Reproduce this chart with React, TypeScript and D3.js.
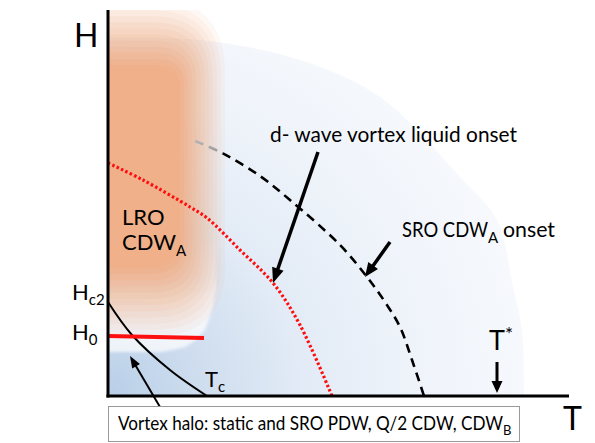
import React from 'react';
import * as d3 from 'd3';

const W = 595;
const HT = 443;

// Data in diagram units: T measured from the origin, H measured up from the T axis
const T_MAX = 461;
const H_MAX = 386;

const redDotted: [number, number][] = [[0,233],[35,216],[82,189],[99,178],[132,146],[165,113],[192,71],[224,0]];
const dashedOnset: [number, number][] = [[87,255],[114,243],[152,220],[182,196],[232,151],[259,119],[277,94],[292,69],[304,36],[316,0]];
const tcCurve: [number, number][] = [[0,94],[24,61],[62,26],[99,0]];
const h0Line: [number, number][] = [[0,60],[96,58]];
const blueRegion: [number, number][] = [[0,358],[92,356],[192,336],[272,299],[352,219],[389,176],[405,109],[414,66],[416,0]];
const haloRegion: [number, number][] = [[0,176],[108,176],[108,106],[104,86],[97,66],[88,56],[77,49],[64,46],[52,44],[0,44]];

// LRO CDW_A region: solid core and outer (faded-out) extent: [T right, H top, H bottom, corner radius top, corner radius bottom]
const orangeCore = [72, 331, 128, 22, 30];
const orangeOuter = [117, 398, 60, 75, 70];
const ORANGE_BANDS = 12;

type Arrow = { from: [number, number]; to: [number, number]; w: number; hl: number; hw: number };
const arrows: Arrow[] = [
  { from: [210,244], to: [165,113], w: 3.5, hl: 15, hw: 12 },
  { from: [282,154], to: [257,119], w: 3.5, hl: 14, hw: 12 },
  { from: [389,34], to: [389,3], w: 3, hl: 12, hw: 11 },
  { from: [52,-11], to: [22,40], w: 2, hl: 12, hw: 9 },
];

const FONT = "Lato, 'Open Sans', sans-serif";

function rightRounded(x0: number, yTop: number, x1: number, yBot: number, rT: number, rB: number) {
  const p = d3.path();
  p.moveTo(x0, yTop);
  p.lineTo(x1 - rT, yTop);
  p.quadraticCurveTo(x1, yTop, x1, yTop + rT);
  p.lineTo(x1, yBot - rB);
  p.quadraticCurveTo(x1, yBot, x1 - rB, yBot);
  p.lineTo(x0, yBot);
  p.closePath();
  return p.toString();
}

export default function App() {
  const x = d3.scaleLinear().domain([0, T_MAX]).range([108, 569]);
  const y = d3.scaleLinear().domain([0, H_MAX]).range([396, 10]);

  const smooth = d3.line<[number, number]>().x(d => x(d[0])).y(d => y(d[1])).curve(d3.curveCatmullRom.alpha(0.5));
  const straight = d3.line<[number, number]>().x(d => x(d[0])).y(d => y(d[1]));
  const closedLin = d3.line<[number, number]>().x(d => x(d[0])).y(d => y(d[1])).curve(d3.curveLinearClosed);

  const bluePath = smooth(blueRegion) + `L${x(0)},${y(0)}Z`;

  const bands: { d: string; a: number }[] = [];
  let prevC = 0;
  for (let i = 1; i <= ORANGE_BANDS; i++) {
    const f = (i - 1) / (ORANGE_BANDS - 1);
    const g = orangeOuter.map((o, j) => o + (orangeCore[j] - o) * f);
    const c = i / ORANGE_BANDS;
    const a = 1 - (1 - c) / (1 - prevC);
    prevC = c;
    bands.push({ d: rightRounded(x(-20), y(g[1]), x(g[0]), y(g[2]), g[3], g[4]), a });
  }

  const arrowEls = arrows.map((a, i) => {
    const x1 = x(a.from[0]), y1 = y(a.from[1]);
    const x2 = x(a.to[0]), y2 = y(a.to[1]);
    const dx = x2 - x1, dy = y2 - y1;
    const len = Math.hypot(dx, dy);
    const ux = dx / len, uy = dy / len;
    const bx = x2 - ux * a.hl, by = y2 - uy * a.hl;
    const px = -uy, py = ux;
    const pts = [
      [x2, y2],
      [bx + px * a.hw / 2, by + py * a.hw / 2],
      [bx - px * a.hw / 2, by - py * a.hw / 2],
    ].map(p => p.join(',')).join(' ');
    return (
      <g key={i}>
        <line x1={x1} y1={y1} x2={bx + ux} y2={by + uy} stroke="#000" strokeWidth={a.w} />
        <polygon points={pts} fill="#000" />
      </g>
    );
  });

  return (
    <svg width={W} height={HT} viewBox={`0 0 ${W} ${HT}`} style={{ position: 'absolute', left: 0, top: 0, display: 'block', background: '#fff' }}>
      <defs>
        <radialGradient id="blueGrad" gradientUnits="userSpaceOnUse" cx={x(0)} cy={y(0)} r={430}>
          <stop offset="0" stopColor="#b8cfe8" />
          <stop offset="0.2" stopColor="#cddcee" />
          <stop offset="0.45" stopColor="#e2ebf6" />
          <stop offset="0.7" stopColor="#eef3fa" />
          <stop offset="1" stopColor="#f7f9fd" />
        </radialGradient>
        <linearGradient id="dashGrad" gradientUnits="userSpaceOnUse" x1={x(87)} y1={y(255)} x2={x(122)} y2={y(238)}>
          <stop offset="0" stopColor="#b5b5b5" />
          <stop offset="0.75" stopColor="#999" />
          <stop offset="0.8" stopColor="#000" />
          <stop offset="1" stopColor="#000" />
        </linearGradient>
        <linearGradient id="haloGrad" gradientUnits="userSpaceOnUse" x1={0} y1={y(166)} x2={0} y2={y(96)}>
          <stop offset="0" stopColor="#ffffff" stopOpacity={0} />
          <stop offset="1" stopColor="#ffffff" stopOpacity={0.72} />
        </linearGradient>
        <filter id="blurSmall" filterUnits="userSpaceOnUse" x={0} y={0} width={W} height={HT}>
          <feGaussianBlur stdDeviation="1.5" />
        </filter>
        <clipPath id="quad">
          <rect x={x(0)} y={y(H_MAX)} width={x(T_MAX) - x(0)} height={y(0) - y(H_MAX)} />
        </clipPath>
      </defs>

      <g clipPath="url(#quad)">
        <path d={bluePath} fill="url(#blueGrad)" />
        <path d={closedLin(haloRegion) || ''} fill="url(#haloGrad)" filter="url(#blurSmall)" />
        {bands.map((b, i) => (
          <path key={i} d={b.d} fill="#efb08a" fillOpacity={b.a} />
        ))}
      </g>

      {/* curves */}
      <path d={smooth(redDotted) || ''} fill="none" stroke="#ff0d0d" strokeWidth={3.2} strokeDasharray="2.5 2.3" />
      <path d={smooth(dashedOnset) || ''} fill="none" stroke="url(#dashGrad)" strokeWidth={2.6} strokeDasharray="9 6" />
      <path d={smooth(tcCurve) || ''} fill="none" stroke="#000" strokeWidth={2} />
      <path d={straight(h0Line) || ''} fill="none" stroke="#ff1010" strokeWidth={4} />

      {/* axes */}
      <line x1={x(0)} y1={y(H_MAX)} x2={x(0)} y2={y(0) + 1.5} stroke="#000" strokeWidth={3} />
      <line x1={x(0) - 1.5} y1={y(0)} x2={x(T_MAX)} y2={y(0)} stroke="#000" strokeWidth={3} />

      {arrowEls}

      {/* labels */}
      <g fontFamily={FONT} fill="#000">
        <text x={74} y={47} fontSize={32}>H</text>
        <text x={563} y={430} fontSize={32}>T</text>
        <text x={72} y={300} fontSize={22}>H<tspan fontSize={15} dy={5}>c2</tspan></text>
        <text x={72} y={340} fontSize={22}>H<tspan fontSize={15} dy={5}>0</tspan></text>
        <text x={205} y={387} fontSize={22}>T<tspan fontSize={15} dy={5}>c</tspan></text>
        <text x={489} y={350} fontSize={27}>T<tspan fontSize={19} dy={-9}>*</tspan></text>
        <text x={122} y={225} fontSize={22}>LRO</text>
        <text x={122} y={250} fontSize={22}>CDW<tspan fontSize={15} dy={6}>A</tspan></text>
        <text x={270} y={142} fontSize={21} textLength={247} lengthAdjust="spacingAndGlyphs">d- wave vortex liquid onset</text>
        <text x={402} y={237} fontSize={21}>
          <tspan textLength={86} lengthAdjust="spacingAndGlyphs">SRO CDW</tspan>
          <tspan fontSize={15} dy={6}>A</tspan>
          <tspan x={503} dy={-6} textLength={52} lengthAdjust="spacingAndGlyphs">onset</tspan>
        </text>
      </g>

      <rect x={108.5} y={406.5} width={411} height={35} fill="#fff" stroke="#999" strokeWidth={1} />
      <text x={118} y={430} fontSize={20} fontFamily={FONT} fill="#000">
        <tspan textLength={385} lengthAdjust="spacingAndGlyphs">Vortex halo: static and SRO PDW, Q/2 CDW, CDW</tspan>
        <tspan fontSize={13} dy={5}>B</tspan>
      </text>
    </svg>
  );
}
